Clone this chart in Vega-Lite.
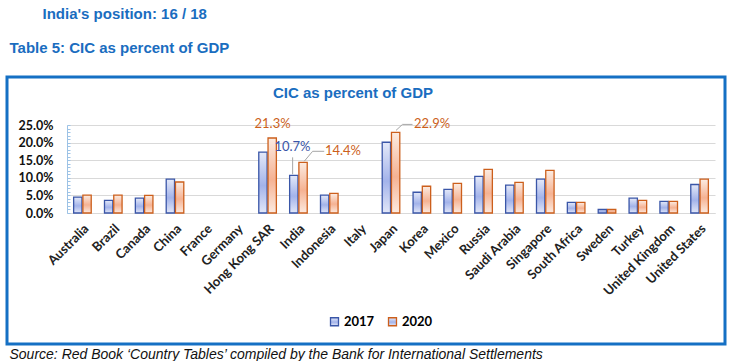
{
  "$schema": "https://vega.github.io/schema/vega-lite/v6.json",
  "background": "white",
  "padding": {"left": 5, "top": 6, "right": 0, "bottom": 0},
  "autosize": {"type": "pad"},
  "title": {"text": "India's position: 16 / 18", "anchor": "start", "dx": 37, "font": "Liberation Sans", "fontSize": 15, "fontWeight": "bold", "color": "#1A6DBF", "offset": 19},
  "config": {
    "view": {"stroke": "#1570C4", "strokeWidth": 3},
    "font": "Liberation Sans"
  },
  "vconcat": [
    {
      "title": {"text": "Table 5: CIC as percent of GDP", "anchor": "start", "dx": 4, "font": "Liberation Sans", "fontSize": 15, "fontWeight": "bold", "color": "#1A6DBF", "offset": 20},
      "vconcat": [
        {
          "title": {"text": "Source: Red Book ‘Country Tables’ compiled by the Bank for International Settlements", "orient": "bottom", "anchor": "start", "dx": 4, "font": "Liberation Sans", "fontSize": 14, "fontStyle": "italic", "fontWeight": "normal", "color": "#111111", "offset": 2},
          "vconcat": [
            {
              "width": 718,
              "height": 267,
              "title": {"text": "CIC as percent of GDP", "anchor": "middle", "dx": -13, "offset": -24, "font": "Liberation Sans", "fontSize": 15, "fontWeight": "bold", "color": "#1A6DBF"},
              "data": {"values": [
                {"country": "Australia", "year": "2017", "value": 0.045},
                {"country": "Australia", "year": "2020", "value": 0.051},
                {"country": "Brazil", "year": "2017", "value": 0.036},
                {"country": "Brazil", "year": "2020", "value": 0.051},
                {"country": "Canada", "year": "2017", "value": 0.042},
                {"country": "Canada", "year": "2020", "value": 0.050},
                {"country": "China", "year": "2017", "value": 0.096},
                {"country": "China", "year": "2020", "value": 0.088},
                {"country": "Hong Kong SAR", "year": "2017", "value": 0.173},
                {"country": "Hong Kong SAR", "year": "2020", "value": 0.213},
                {"country": "India", "year": "2017", "value": 0.107},
                {"country": "India", "year": "2020", "value": 0.144},
                {"country": "Indonesia", "year": "2017", "value": 0.051},
                {"country": "Indonesia", "year": "2020", "value": 0.056},
                {"country": "Japan", "year": "2017", "value": 0.201},
                {"country": "Japan", "year": "2020", "value": 0.229},
                {"country": "Korea", "year": "2017", "value": 0.059},
                {"country": "Korea", "year": "2020", "value": 0.076},
                {"country": "Mexico", "year": "2017", "value": 0.067},
                {"country": "Mexico", "year": "2020", "value": 0.084},
                {"country": "Russia", "year": "2017", "value": 0.104},
                {"country": "Russia", "year": "2020", "value": 0.124},
                {"country": "Saudi Arabia", "year": "2017", "value": 0.079},
                {"country": "Saudi Arabia", "year": "2020", "value": 0.087},
                {"country": "Singapore", "year": "2017", "value": 0.096},
                {"country": "Singapore", "year": "2020", "value": 0.121},
                {"country": "South Africa", "year": "2017", "value": 0.030},
                {"country": "South Africa", "year": "2020", "value": 0.030},
                {"country": "Sweden", "year": "2017", "value": 0.010},
                {"country": "Sweden", "year": "2020", "value": 0.010},
                {"country": "Turkey", "year": "2017", "value": 0.042},
                {"country": "Turkey", "year": "2020", "value": 0.036},
                {"country": "United Kingdom", "year": "2017", "value": 0.033},
                {"country": "United Kingdom", "year": "2020", "value": 0.033},
                {"country": "United States", "year": "2017", "value": 0.081},
                {"country": "United States", "year": "2020", "value": 0.096}
              ]},
              "encoding": {
                "x": {
                  "field": "country", "type": "nominal", "sort": null,
                  "scale": {
                    "domain": ["Australia", "Brazil", "Canada", "China", "France", "Germany", "Hong Kong SAR", "India", "Indonesia", "Italy", "Japan", "Korea", "Mexico", "Russia", "Saudi Arabia", "Singapore", "South Africa", "Sweden", "Turkey", "United Kingdom", "United States"],
                    "range": [60, 708], "paddingInner": 0.43, "paddingOuter": 0.215
                  },
                  "axis": {
                    "orient": "bottom", "offset": -131, "title": null, "labelAngle": -45, "ticks": false,
                    "domainColor": "#D9D9D9", "domainWidth": 1, "grid": false,
                    "labelFont": "Lato", "labelFontWeight": "bold", "labelFontSize": 13, "labelColor": "#222222", "labelPadding": 9
                  }
                },
                "y": {
                  "field": "value", "type": "quantitative",
                  "scale": {"domain": [0, 0.25], "range": [136, 48], "nice": false, "zero": true},
                  "axis": {
                    "orient": "left", "offset": -60, "title": null,
                    "values": [0, 0.01, 0.02, 0.03, 0.04, 0.05, 0.06, 0.07, 0.08, 0.09, 0.1, 0.11, 0.12, 0.13, 0.14, 0.15, 0.16, 0.17, 0.18, 0.19, 0.2, 0.21, 0.22, 0.23, 0.24, 0.25],
                    "format": ".1%",
                    "labelExpr": "round(datum.value * 100) % 5 == 0 ? datum.label : ''",
                    "labelOverlap": false,
                    "grid": true, "gridColor": "#D9D9D9",
                    "gridOpacity": {"condition": {"test": "round(datum.value * 100) % 5 == 0", "value": 1}, "value": 0},
                    "domainColor": "#9DC3E6", "tickColor": "#9DC3E6", "tickSize": -3,
                    "labelFont": "Lato", "labelFontWeight": "bold", "labelFontSize": 12.5, "labelColor": "#111111", "labelPadding": 17
                  }
                }
              },
              "layer": [
                {
                  "transform": [{"filter": "datum.year == '2017'"}],
                  "mark": {"type": "bar", "strokeWidth": 1.3,
                    "fill": {"gradient": "linear", "x1": 0, "y1": 0, "x2": 0, "y2": 1, "stops": [{"offset": 0, "color": "#E4E9F9"}, {"offset": 0.55, "color": "#A3B3EA"}, {"offset": 1, "color": "#E2E7F8"}]}},
                  "encoding": {
                    "xOffset": {"field": "year", "type": "nominal", "scale": {"domain": ["2017", "2020"], "paddingInner": 0.1}},
                    "stroke": {"field": "year", "type": "nominal", "scale": {"domain": ["2017", "2020"], "range": ["#3A56A8", "#CC5F1C"]},
                      "legend": {"orient": "none", "legendX": 321, "legendY": 238, "direction": "horizontal", "title": null,
                        "symbolType": "square", "symbolSize": 64, "symbolStrokeWidth": 1.3,
                        "labelFont": "Lato", "labelFontWeight": "bold", "labelFontSize": 13, "columnPadding": 10, "labelOffset": 3, "padding": 0,
                        "encode": {
                          "symbols": {"update": {"fill": {"signal": "datum.value == '2017' ? '#C5CFF0' : '#F8C9AE'"}, "opacity": {"value": 1}}},
                          "labels": {"update": {"fill": {"signal": "datum.value == '2017' ? '#3A56A8' : '#CC5F1C'"}}}
                        }}}
                  }
                },
                {
                  "transform": [{"filter": "datum.year == '2020'"}],
                  "mark": {"type": "bar", "strokeWidth": 1.3,
                    "fill": {"gradient": "linear", "x1": 0, "y1": 0, "x2": 0, "y2": 1, "stops": [{"offset": 0, "color": "#FCECE2"}, {"offset": 0.55, "color": "#F5B293"}, {"offset": 1, "color": "#FCEAE0"}]}},
                  "encoding": {
                    "xOffset": {"field": "year", "type": "nominal", "scale": {"domain": ["2017", "2020"], "paddingInner": 0.1}},
                    "stroke": {"field": "year", "type": "nominal"}
                  }
                },
                {
                  "transform": [{"filter": "datum.country == 'Hong Kong SAR' && datum.year == '2020'"}],
                  "mark": {"type": "text", "dx": 5, "dy": -14, "align": "center", "baseline": "middle", "font": "Lato", "fontSize": 13, "color": "#CC5F1C"},
                  "encoding": {"text": {"field": "value", "type": "quantitative", "format": ".1%"}}
                },
                {
                  "transform": [{"filter": "datum.country == 'Japan' && datum.year == '2020'"}],
                  "mark": {"type": "text", "dx": 23, "dy": -8, "align": "left", "baseline": "middle", "font": "Lato", "fontSize": 13, "color": "#CC5F1C"},
                  "encoding": {"text": {"field": "value", "type": "quantitative", "format": ".1%"}}
                },
                {
                  "transform": [{"filter": "datum.country == 'India' && datum.year == '2017'"}],
                  "mark": {"type": "text", "dx": -6, "dy": -28, "align": "center", "baseline": "middle", "font": "Lato", "fontSize": 13, "color": "#3A56A8"},
                  "encoding": {"text": {"field": "value", "type": "quantitative", "format": ".1%"}}
                },
                {
                  "transform": [{"filter": "datum.country == 'India' && datum.year == '2020'"}],
                  "mark": {"type": "text", "dx": 26.5, "dy": -11, "align": "left", "baseline": "middle", "font": "Lato", "fontSize": 13, "color": "#CC5F1C"},
                  "encoding": {"text": {"field": "value", "type": "quantitative", "format": ".1%"}}
                },
                {
                  "transform": [{"filter": "datum.country == 'India' && datum.year == '2017'"}],
                  "mark": {"type": "rule", "color": "#A6A6A6", "strokeWidth": 1, "xOffset": -5.8, "x2Offset": -5.8, "yOffset": -1, "y2Offset": -18},
                  "encoding": {"y2": {"field": "value"}}
                },
                {
                  "transform": [{"filter": "datum.country == 'India' && datum.year == '2020'"}],
                  "mark": {"type": "rule", "color": "#A6A6A6", "strokeWidth": 1, "xOffset": 5.8, "x2Offset": 14.2, "yOffset": -1, "y2Offset": -11},
                  "encoding": {"x2": {"field": "country"}, "y2": {"field": "value"}}
                },
                {
                  "transform": [{"filter": "datum.country == 'India' && datum.year == '2020'"}],
                  "mark": {"type": "rule", "color": "#A6A6A6", "strokeWidth": 1, "xOffset": 14.2, "x2Offset": 25.8, "yOffset": -11, "y2Offset": -11},
                  "encoding": {"x2": {"field": "country"}, "y2": {"field": "value"}}
                },
                {
                  "transform": [{"filter": "datum.country == 'Japan' && datum.year == '2020'"}],
                  "mark": {"type": "rule", "color": "#A6A6A6", "strokeWidth": 1, "xOffset": 5, "x2Offset": 11.5, "yOffset": -2, "y2Offset": -8},
                  "encoding": {"x2": {"field": "country"}, "y2": {"field": "value"}}
                },
                {
                  "transform": [{"filter": "datum.country == 'Japan' && datum.year == '2020'"}],
                  "mark": {"type": "rule", "color": "#A6A6A6", "strokeWidth": 1, "xOffset": 11.5, "x2Offset": 21.5, "yOffset": -8, "y2Offset": -8},
                  "encoding": {"x2": {"field": "country"}, "y2": {"field": "value"}}
                }
              ]
            }
          ]
        }
      ]
    }
  ]
}
